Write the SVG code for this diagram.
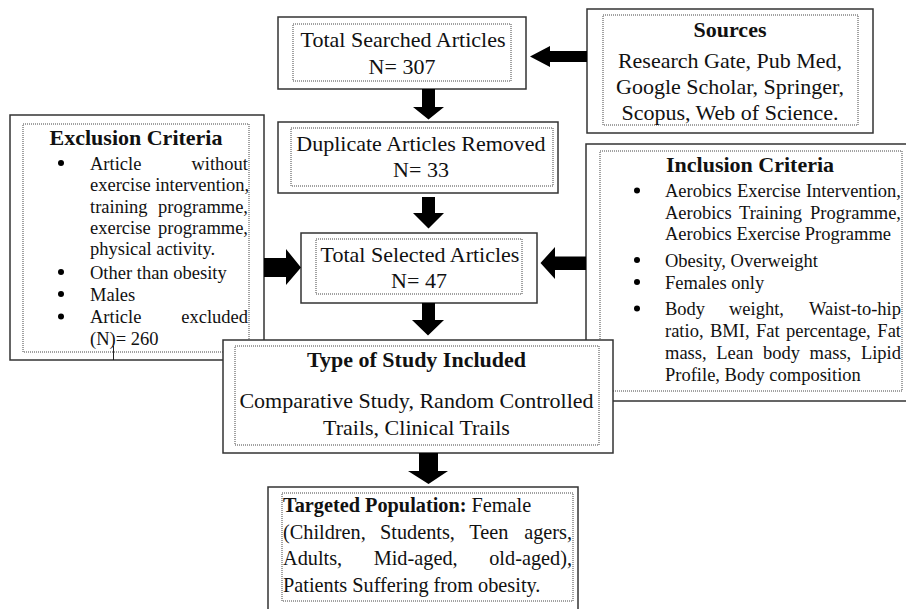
<svg xmlns="http://www.w3.org/2000/svg" width="906" height="609" viewBox="0 0 906 609">
<style>
.box{fill:#fff;stroke:#333;stroke-width:1.5}
.inner{fill:none;stroke:#444;stroke-width:1;stroke-dasharray:1 1}
.t{font-family:"Liberation Serif","Times New Roman",serif;font-size:22px;fill:#111}
.s{font-size:18.5px}
.m{font-size:20.3px}
.b{font-weight:bold}
.c{text-anchor:middle}
.e{text-anchor:end}
.arrow{fill:#000}
.dot{fill:#000}
</style>
<rect width="906" height="609" fill="#fff"/>

<g id="exclusion">
<rect class="box" x="10" y="115" width="254" height="245"/>
<rect class="inner" x="23" y="124" width="226" height="228"/>
<text class="t b c" x="136" y="145">Exclusion Criteria</text>
<circle class="dot" cx="61" cy="163" r="3"/>
<circle class="dot" cx="61" cy="272" r="3"/>
<circle class="dot" cx="61" cy="294" r="3"/>
<circle class="dot" cx="61" cy="316.5" r="3"/>
<text class="t s" y="169.5"><tspan x="90">Article</tspan><tspan x="248" class="e">without</tspan></text>
<text class="t s" x="90" y="191">exercise intervention,</text>
<text class="t s" y="212.5"><tspan x="90">training</tspan><tspan x="248" class="e">programme,</tspan></text>
<text class="t s" y="233.5"><tspan x="90">exercise</tspan><tspan x="248" class="e">programme,</tspan></text>
<text class="t s" x="90" y="254.5">physical activity.</text>
<text class="t s" x="90" y="278.5">Other than obesity</text>
<text class="t s" x="90" y="300.5">Males</text>
<text class="t s" y="323"><tspan x="90">Article</tspan><tspan x="248" class="e">excluded</tspan></text>
<text class="t s" x="90" y="344.5">(N)= 260</text>
<line x1="113.5" y1="346" x2="113.5" y2="360" stroke="#222" stroke-width="1"/>
</g>

<g id="inclusion">
<rect class="box" x="586" y="144" width="330" height="257"/>
<rect class="inner" x="600" y="151" width="302" height="240"/>
<text class="t b c" x="750" y="172">Inclusion Criteria</text>
<circle class="dot" cx="637" cy="190.5" r="3"/>
<circle class="dot" cx="637" cy="260" r="3"/>
<circle class="dot" cx="637" cy="282" r="3"/>
<circle class="dot" cx="637" cy="308.5" r="3"/>
<text class="t s" y="197"><tspan x="665">Aerobics</tspan><tspan x="737">Exercise</tspan><tspan x="901" class="e">Intervention,</tspan></text>
<text class="t s" y="218.5"><tspan x="665">Aerobics</tspan><tspan x="739">Training</tspan><tspan x="901" class="e">Programme,</tspan></text>
<text class="t s" x="665" y="240">Aerobics Exercise Programme</text>
<text class="t s" x="665" y="266.5">Obesity, Overweight</text>
<text class="t s" x="665" y="288.5">Females only</text>
<text class="t s" y="315"><tspan x="665">Body</tspan><tspan x="729">weight,</tspan><tspan x="901" class="e">Waist-to-hip</tspan></text>
<text class="t s" y="337"><tspan x="665">ratio,</tspan><tspan x="710">BMI,</tspan><tspan x="756">Fat</tspan><tspan x="786">percentage,</tspan><tspan x="901" class="e">Fat</tspan></text>
<text class="t s" y="358.5"><tspan x="665">mass,</tspan><tspan x="716.3">Lean</tspan><tspan x="763">body</tspan><tspan x="809.6">mass,</tspan><tspan x="901" class="e">Lipid</tspan></text>
<text class="t s" x="665" y="380.5">Profile, Body composition</text>
</g>

<g id="sources">
<rect class="box" x="587" y="9" width="286" height="124"/>
<rect class="inner" x="603" y="15" width="255" height="110"/>
<text class="t b c" x="730" y="37">Sources</text>
<text class="t c" x="730" y="68">Research Gate, Pub Med,</text>
<text class="t c" x="730" y="94">Google Scholar, Springer,</text>
<text class="t c" x="730" y="120">Scopus, Web of Science.</text>
</g>

<g id="total-searched">
<rect class="box" x="278" y="17" width="248" height="72"/>
<rect class="inner" x="293" y="24" width="218" height="57"/>
<text class="t c" x="403" y="47">Total Searched Articles</text>
<text class="t c" x="402" y="74">N= 307</text>
</g>

<g id="duplicates">
<rect class="box" x="278" y="122" width="280" height="71"/>
<rect class="inner" x="291" y="128" width="262" height="58"/>
<text class="t c" x="421" y="151">Duplicate Articles Removed</text>
<text class="t c" x="421" y="177">N= 33</text>
</g>

<g id="total-selected">
<rect class="box" x="301" y="233" width="236" height="70"/>
<rect class="inner" x="316" y="239" width="206" height="55"/>
<text class="t c" x="420" y="262">Total Selected Articles</text>
<text class="t c" x="419" y="288">N= 47</text>
</g>

<g id="study-type">
<rect class="box" x="223" y="340" width="390" height="113"/>
<rect class="inner" x="235" y="346" width="364" height="99"/>
<text class="t b c" x="416.5" y="367">Type of Study Included</text>
<text class="t c" x="416.5" y="408">Comparative Study, Random Controlled</text>
<text class="t c" x="416.5" y="435">Trails, Clinical Trails</text>
</g>

<g id="population">
<rect class="box" x="268" y="487" width="310" height="130"/>
<rect class="inner" x="282" y="493" width="291" height="108"/>
<text class="t m" x="283" y="512"><tspan class="b">Targeted Population:</tspan> Female</text>
<text class="t m" y="538.5"><tspan x="283">(Children,</tspan><tspan x="380">Students,</tspan><tspan x="469.3">Teen</tspan><tspan x="572" class="e">agers,</tspan></text>
<text class="t m" y="565"><tspan x="283">Adults,</tspan><tspan x="373.7">Mid-aged,</tspan><tspan x="572" class="e">old-aged),</tspan></text>
<text class="t m" x="283" y="592">Patients Suffering from obesity.</text>
</g>

<g id="connectors">
<polygon class="arrow" points="587,51 550,51 550,46 530,56.5 550,67 550,62 587,62"/>
<polygon class="arrow" points="422,89 435,89 435,107 444,107 428.5,119.5 413,107 422,107"/>
<polygon class="arrow" points="422,197 435,197 435,213 444,213 428.5,228.5 413,213 422,213"/>
<polygon class="arrow" points="422,303 435,303 435,320 444,320 428,335.5 412,320 422,320"/>
<polygon class="arrow" points="419,453 438,453 438,471 448,471 428.5,484 408,471 419,471"/>
<polygon class="arrow" points="264,258 286,258 286,249 301,267.5 286,285 286,277 264,277"/>
<polygon class="arrow" points="586,256.5 555,256.5 555,247 540.5,263 555,279 555,270 586,270"/>
</g>
</svg>
